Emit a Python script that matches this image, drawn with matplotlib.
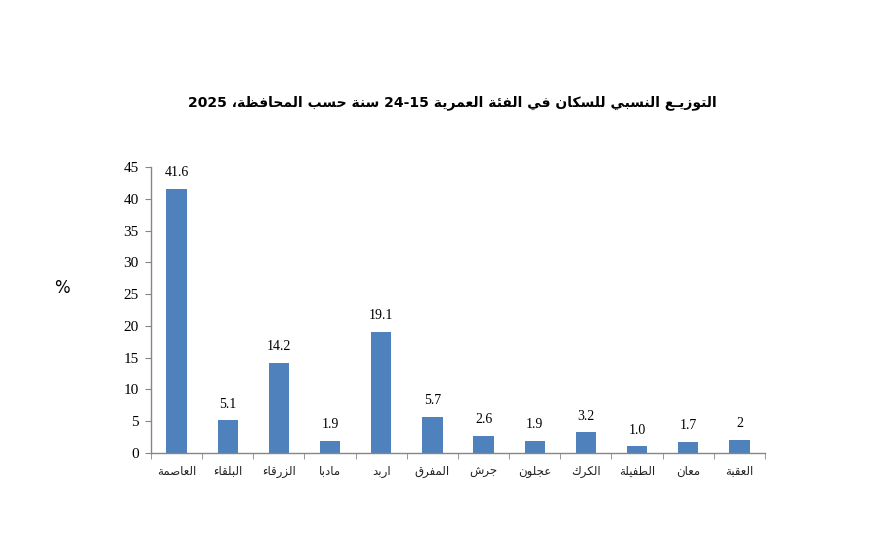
import matplotlib
matplotlib.use("Agg")
import matplotlib.pyplot as plt
from matplotlib.ticker import FixedLocator

# ---------------- data ----------------
categories = ["العاصمة", "البلقاء", "الزرقاء", "مادبا", "اربد", "المفرق",
              "جرش", "عجلون", "الكرك", "الطفيلة", "معان", "العقبة"]
values = [41.6, 5.1, 14.2, 1.9, 19.1, 5.7, 2.6, 1.9, 3.2, 1.0, 1.7, 2]
value_labels = ["41.6", "5.1", "14.2", "1.9", "19.1", "5.7",
                "2.6", "1.9", "3.2", "1.0", "1.7", "2"]
y_ticks = [0, 5, 10, 15, 20, 25, 30, 35, 40, 45]
title = "التوزيـع النسبي للسكان في الفئة العمرية 24-15 سنة حسب المحافظة، 2025"
y_label = "%"

# ------------- minimal Arabic shaping (matplotlib has no shaping) -------------
DUAL = {
    'ئ': 0xFE89, 'ب': 0xFE8F, 'ت': 0xFE95, 'ث': 0xFE99, 'ج': 0xFE9D, 'ح': 0xFEA1,
    'خ': 0xFEA5, 'س': 0xFEB1, 'ش': 0xFEB5, 'ص': 0xFEB9, 'ض': 0xFEBD, 'ط': 0xFEC1,
    'ظ': 0xFEC5, 'ع': 0xFEC9, 'غ': 0xFECD, 'ف': 0xFED1, 'ق': 0xFED5, 'ك': 0xFED9,
    'ل': 0xFEDD, 'م': 0xFEE1, 'ن': 0xFEE5, 'ه': 0xFEE9, 'ي': 0xFEF1,
}
RIGHT = {
    'آ': 0xFE81, 'أ': 0xFE83, 'ؤ': 0xFE85, 'إ': 0xFE87, 'ا': 0xFE8D, 'ة': 0xFE93,
    'د': 0xFEA9, 'ذ': 0xFEAB, 'ر': 0xFEAD, 'ز': 0xFEAF, 'و': 0xFEED, 'ى': 0xFEEF,
}
NONJOIN = {'ء': 0xFE80}
LAMALEF = {'آ': 0xFEF5, 'أ': 0xFEF7, 'إ': 0xFEF9, 'ا': 0xFEFB}
TATWEEL = 'ـ'


def joins_left(c):
    return c in DUAL or c == TATWEEL


def joins_right(c):
    return c in DUAL or c in RIGHT or c == TATWEEL


def shape(word):
    out = []
    i = 0
    n = len(word)
    while i < n:
        c = word[i]
        prev = word[i - 1] if i > 0 else ''
        cp = bool(prev) and joins_left(prev) and joins_right(c)
        if c == 'ل' and i + 1 < n and word[i + 1] in LAMALEF:
            out.append(chr(LAMALEF[word[i + 1]] + (1 if cp else 0)))
            i += 2
            continue
        nxt = word[i + 1] if i + 1 < n else ''
        if c in DUAL:
            cn = bool(nxt) and joins_right(nxt)
            base = DUAL[c]
            if cp and cn:
                out.append(chr(base + 3))
            elif cp:
                out.append(chr(base + 1))
            elif cn:
                out.append(chr(base + 2))
            else:
                out.append(chr(base))
        elif c in RIGHT:
            out.append(chr(RIGHT[c] + (1 if cp else 0)))
        elif c in NONJOIN:
            out.append(chr(NONJOIN[c]))
        else:
            out.append(c)
        i += 1
    return ''.join(out)


def is_arabic(tok):
    return any('\u0600' <= ch <= '\u06FF' for ch in tok)


def visual(text):
    toks = text.split(' ')
    res = []
    for t in reversed(toks):
        if is_arabic(t):
            res.append(shape(t)[::-1])
        else:
            res.append(t)
    return ' '.join(res)


# ---------------- figure ----------------
fig = plt.figure(figsize=(8.74, 5.33), dpi=100)
ax = fig.add_axes([151 / 874, 1 - 452.7 / 533, 614 / 874, 285.3 / 533])

bar_color = "#4F81BD"
axis_color = "#868686"
x = list(range(len(categories)))
bars = ax.bar(x, values, width=0.4, color=bar_color, zorder=2)

for xi, v, lab in zip(x, values, value_labels):
    ax.annotate(lab, (xi, v), xytext=(0, 7), textcoords="offset points",
                ha="center", va="bottom", fontsize=10,
                family="Liberation Serif", color="black")

ax.set_xlim(-0.5, len(categories) - 0.5)
ax.set_ylim(0, 45)
ax.set_yticks(y_ticks)
ax.set_yticklabels([str(t) for t in y_ticks], family="Liberation Serif", fontsize=11)

ax.set_xticks(x)
ax.set_xticklabels([visual(c) for c in categories], family="DejaVu Sans",
                   fontsize=8.5, color="#222222")
ax.xaxis.set_minor_locator(FixedLocator([i - 0.5 for i in range(len(categories) + 1)]))
ax.tick_params(axis="x", which="major", length=0, pad=9)
ax.tick_params(axis="x", which="minor", length=4, color=axis_color, direction="out")
ax.tick_params(axis="y", length=4, color=axis_color, direction="out", pad=5)

for s in ["top", "right"]:
    ax.spines[s].set_visible(False)
for s in ["left", "bottom"]:
    ax.spines[s].set_color(axis_color)
    ax.spines[s].set_linewidth(1.0)

fig.text(62 / 874, 1 - 288 / 533, y_label, ha="center", va="center",
         fontsize=12, family="DejaVu Sans")

fig.text(452 / 874, 1 - 103 / 533, visual(title), ha="center", va="center",
         fontsize=10, fontweight="bold", family="DejaVu Sans")

fig.savefig("out.png", dpi=100)
